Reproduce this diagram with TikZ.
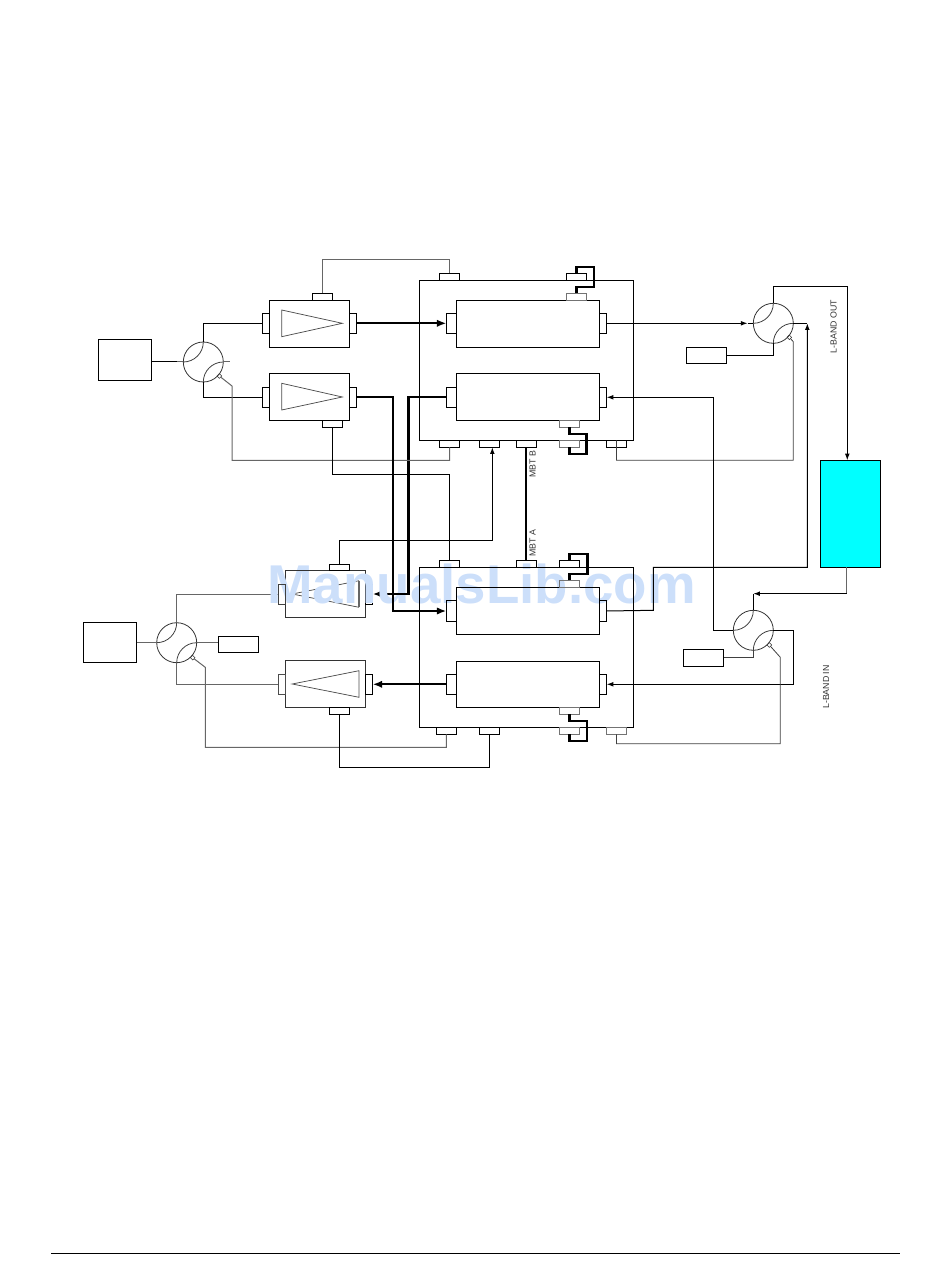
\documentclass[tikz,border=0pt]{standalone}
\usepackage{fontspec}
\setmainfont{Liberation Sans}
\usetikzlibrary{arrows.meta,shapes.geometric}
\definecolor{wmark}{HTML}{CCDFFA}
\definecolor{rackc}{RGB}{0,255,255}
\tikzset{
  boxn/.style={draw=black,line width=.75pt,inner sep=0,outer sep=0},
  grayport/.style={draw=black!55},
  circ/.style={circle,draw=black!80,line width=.6pt,minimum size=30pt,inner sep=0,outer sep=0},
  term/.style={diamond,draw=black!80,line width=.4pt,minimum size=3.5pt,inner sep=0,outer sep=0},
  tri/.style={draw=black!70,line width=.55pt,line join=miter},
  wk/.style={draw=black,line width=.75pt},
  wg/.style={draw=black!60,line width=.75pt},
  wfine/.style={draw=black!75,line width=.6pt},
  wt/.style={draw=black,line width=1.6pt},
  wm/.style={draw=black,line width=1.3pt},
  tipS/.style={-{Latex[length=5pt,width=3.6pt]}},
  tipL/.style={-{Latex[length=7pt,width=5.5pt]}},
  lab/.style={font=\fontsize{6.6pt}{7pt}\selectfont,text=black!80,rotate=90,inner sep=0},
}
\newcommand\bx[6][]{%
  \pgfmathsetmacro\bxw{(#5-#3)*0.75}\pgfmathsetmacro\bxh{(#6-#4)*0.75}%
  \pgfmathsetmacro\bxx{(#3+#5)/2}\pgfmathsetmacro\bxy{(#4+#6)/2}%
  \node[boxn,#1,minimum width=\bxw pt,minimum height=\bxh pt] (#2) at (\bxx,\bxy) {};}
\newcommand\circarcs[1]{%
  \draw[wfine] (#1.north) .. controls +(0,11) and +(11,0) .. (#1.west);
  \draw[wfine] (#1.south) .. controls +(0,-11) and +(-11,0) .. (#1.east);}
\begin{document}
\begin{tikzpicture}[x=0.75pt,y=-0.75pt]
\useasboundingbox (0,0) rectangle (950,1276);
% parts lying under the watermark
\node[circ] (cBL) at (176.7,642.7) {};
\bx[draw=black!80]{a3}{285.3}{570.3}{365.7}{617.3}
\bx[draw=none]{a3L}{278.3}{584}{285.3}{604}
\bx{a3R}{365.7}{584}{372.7}{604}
\bx{u2L}{446.3}{387.3}{456.3}{407.3}
\draw[tri] (359,580.7) -- (292.3,594) -- (359,607.3);
\draw[wg] (cBL.north) |- (a3L.west);
\draw[wt,tipL] (u2L.west) -- (408.5,397.3) |- (a3R.east);
% watermark
\node[font=\bfseries\fontsize{41pt}{41pt}\selectfont,text=wmark,anchor=base,inner sep=0] (wm) at (481.5,603) {ManualsLib.com};
% parts on top of it
\draw[wk,draw=black!75] (a3L.north west) rectangle (a3L.south east);
\draw[boxn,draw=black!80] (a3.north west) -- (a3.north east);
\draw[tri,line width=.8pt,draw=black!60] (359,580.7) -- (359,607.3);
\draw[wt] (u2L.west) -- (408.5,397.3) |- (389,593.7);
% footer rule
\coordinate (ruleL) at (51,1253);
\coordinate (ruleR) at (900,1253);
\draw[wk] (ruleL) -- (ruleR);
% upper-left group
\bx{srcA}{98.3}{340}{151.7}{380}
\node[circ] (cTL) at (203.3,362) {};
\bx{a1}{269.3}{300.3}{349.3}{347.3}
\bx{a1L}{262.3}{313.3}{269.3}{333.3}
\bx{a1R}{349.3}{313.3}{356}{333.3}
\bx{a1T}{312.3}{293.3}{332.3}{300.3}
\bx{a2}{269.3}{373.3}{349.3}{420.3}
\bx{a2L}{262.3}{387.3}{269.3}{407.3}
\bx{a2R}{349.3}{387.3}{356}{407.3}
\bx{a2B}{322.3}{420.3}{342.3}{427.3}
\draw[tri] (281.7,310) -- (342.3,323.3) -- (281.7,336.7) -- cycle;
\draw[tri] (281.7,383.3) -- (342.3,397) -- (281.7,410) -- cycle;
% lower-left group
\bx{srcB}{83.3}{622.3}{136.7}{662.3}
\bx{loadBL}{218.3}{636.3}{258.3}{652.3}
\bx{a3T}{329.3}{564}{349.7}{570.3}
\bx[draw=black!80]{a4}{285.3}{660.3}{365.7}{707.3}
\bx[draw=black!70]{a4L}{278.3}{674.3}{285.3}{694.3}
\bx{a4R}{365.7}{674.3}{372.7}{694.3}
\bx{a4B}{329.3}{707.3}{349.7}{714.3}
\draw[tri] (292.3,684) -- (359,670.7) -- (359,697.3) -- cycle;
% module 1
\bx{m1}{419.3}{280.3}{633.3}{440.3}
\bx{u1}{456.3}{300.3}{599.3}{347.3}
\bx{u1L}{446.3}{313.3}{456.3}{333.3}
\bx{u1R}{599.3}{313.3}{606.7}{333.3}
\bx[grayport]{u1T}{566.3}{293.3}{586.7}{300.3}
\bx{u2}{456.3}{373.3}{599.3}{420.3}
\bx{u2R}{599.3}{387.3}{606.7}{407.3}
\bx[grayport]{u2B}{559.3}{420.3}{579.7}{427.3}
\bx{m1t1}{439.3}{273.3}{459.7}{280.3}
\bx{m1t2}{566.3}{273.3}{586.7}{280.3}
\bx{m1b1}{439.3}{440.3}{459.7}{447.3}
\bx{m1b2}{479.3}{440.3}{499.3}{447.3}
\bx{m1b3}{516.3}{440.3}{536.3}{447.3}
\bx[grayport]{m1b4}{559.3}{440.3}{579.7}{447.3}
\bx{m1b5}{606.3}{440.3}{626.7}{447.3}
% module 2
\bx{m2}{419.3}{567.3}{633.3}{727.3}
\bx{u3}{456.3}{587.3}{599.3}{634.3}
\bx{u3L}{446.3}{600.7}{456.3}{621.3}
\bx{u3R}{599.3}{600.7}{606.7}{621.3}
\bx[grayport]{u3T}{559.3}{580.3}{579.7}{587.3}
\bx{u4}{456.3}{661.3}{599.3}{707.3}
\bx{u4L}{446.3}{674.3}{456.3}{694.3}
\bx{u4R}{599.3}{674.3}{606.7}{694.3}
\bx[grayport]{u4B}{559.3}{707.3}{579.7}{714.3}
\bx{m2t1}{439.3}{560.3}{459.7}{567.3}
\bx{m2t2}{516.3}{560.3}{536.3}{567.3}
\bx{m2t3}{559.3}{560.3}{579.7}{567.3}
\bx{m2b1}{436.3}{727.3}{456.3}{734.3}
\bx{m2b2}{479.3}{727.3}{499.7}{734.3}
\bx[grayport]{m2b3}{559.3}{727.3}{579.7}{734.3}
\bx[grayport]{m2b4}{606.3}{727.3}{626.7}{734.3}
% right side
\node[circ] (cTR) at (773.3,323.3) {};
\bx{loadTR}{686.3}{347.3}{726.7}{363.3}
\node[circ] (cBR) at (753.3,630.3) {};
\bx{loadBR}{683.3}{649.3}{723.7}{666.3}
\bx[fill=rackc]{rack}{820.3}{460.3}{880.3}{567.3}
% circulator internals
\circarcs{cTL}\circarcs{cBL}\circarcs{cTR}\circarcs{cBR}
\node[term] (tTL) at (219.3,376) {};
\node[term] (tBL) at (192.7,657.7) {};
\node[term] (tTR) at (789.3,337.3) {};
\node[term] (tBR) at (769.3,645) {};
% upper-left wiring
\draw[wk] (srcA.east |- cTL.west) -- ++(26,0);
\draw[wg] (cTL.west) -- ++(-6,0);
\draw[wg] (cTL.east) -- ++(7,0);
\draw[wk] (cTL.north) |- (a1L.west);
\draw[wk] (cTL.south) |- (a2L.west);
\draw[wg] (a1T.north) -- ++(0,-33.3) -| (m1t1.north);
\draw[wg] (tTL) -- (232,386) |- (449.5,460.3) -- (m1b1.south);
\draw[wm,tipL] (a1R.east) -- (u1L.west);
\draw[wk] (a2B.south) -- ++(0,47.4) -| (m2t1.north);
% crossing thick wires
\draw[wt,tipL] (a2R.east) -- (392.7,397.3) |- (u3L.west);
\draw[wt,tipL] (u4L.west) -- (a4R.east);
% lower-left wiring
\draw[wg] (srcB.east |- cBL.west) -- (cBL.west);
\draw[wg] (cBL.east) -- (loadBL.west |- cBL.east);
\draw[wg] (cBL.south) |- (a4L.west);
\draw[wg] (tBL) -- (205.3,667.3) |- (446.3,747.3) -- (m2b1.south);
\draw[wk] (a4B.south) -- ++(0,53) -| (m2b2.south);
\coordinate (m1b2in) at (492.3,447.3);
\draw[wk,tipS] (a3T.north) -- ++(0,-23.7) -| (m1b2in);
% MBT link
\draw[wt] (m1b3.south) -- (m2t2.north);
% jumper loops
\draw[wt,line join=miter] (u1T.north) -- ++(0,-6.3) -- ++(17.3,0) -- ++(0,-20) -- ++(-17.3,0) -- (m1t2.north);
\draw[wt] (u2B.south) -- ++(0,6.7) -- ++(17,0) -- ++(0,20) -- ++(-17,0) -- (m1b4.south);
\draw[wt] (u3T.north) -- ++(0,-6.6) -- ++(18,0) -- ++(0,-20) -- ++(-18,0) -- (m2t3.north);
\draw[wt] (u4B.south) -- ++(0,6.7) -- ++(17.5,0) -- ++(0,20) -- ++(-17.5,0) -- (m2b3.south);
% upper-right wiring
\coordinate (cTRarrow) at (747.5,323.3);
\draw[wk,tipS] (u1R.east) -- (cTRarrow);
\draw[wk] (cTRarrow) -- (cTR.west);
\draw[wk,tipS] (cTR.north) |- (847.3,287) -- (rack.north -| 847.3,0);
\draw[wk] (cTR.south) |- (loadTR.east);
\draw[wk] (cTR.east) -- ++(13.4,0);
\draw[wfine] (tTR) -- (793.3,341.7) |- (616.5,460.3) -- (m1b5.north);
% wire from u3 up to the top-right circulator
\coordinate (cTRout) at (807.3,323.3);
\draw[wk,tipS] (u3R.east) -- (653.3,610.3) |- (807.3,567.3) -- (cTRout);
% wire from u2 to the lower-right circulator
\draw[wk,tipS] (cBR.west) -- (713.3,630.3) |- (u2R.east);
% rack to lower-right circulator
\coordinate (cBRin) at (753.3,593.7);
\draw[wg] (rack.south -| 846.7,0) -- (846.7,593.7);
\draw[wk,tipS] (846.7,593.7) -- (cBRin);
\draw[wk] (cBR.north) -- (cBRin);
\draw[wk,tipS] (cBR.east) -- (793.3,630.3) |- (u4R.east);
\draw[wfine] (cBR.south) |- (loadBR.east);
\draw[wfine] (tBR) -- (780.3,657.3) |- (616.5,743.7) -- (m2b4.south);
% labels
\node[lab] (lOut) at (833.5,326.7) {L-BAND OUT};
\node[lab] (lIn) at (826,687) {L-BAND IN};
\node[lab] (lB) at (532.5,464.5) {MBT B};
\node[lab] (lA) at (532.5,543) {MBT A};
\end{tikzpicture}
\end{document}
